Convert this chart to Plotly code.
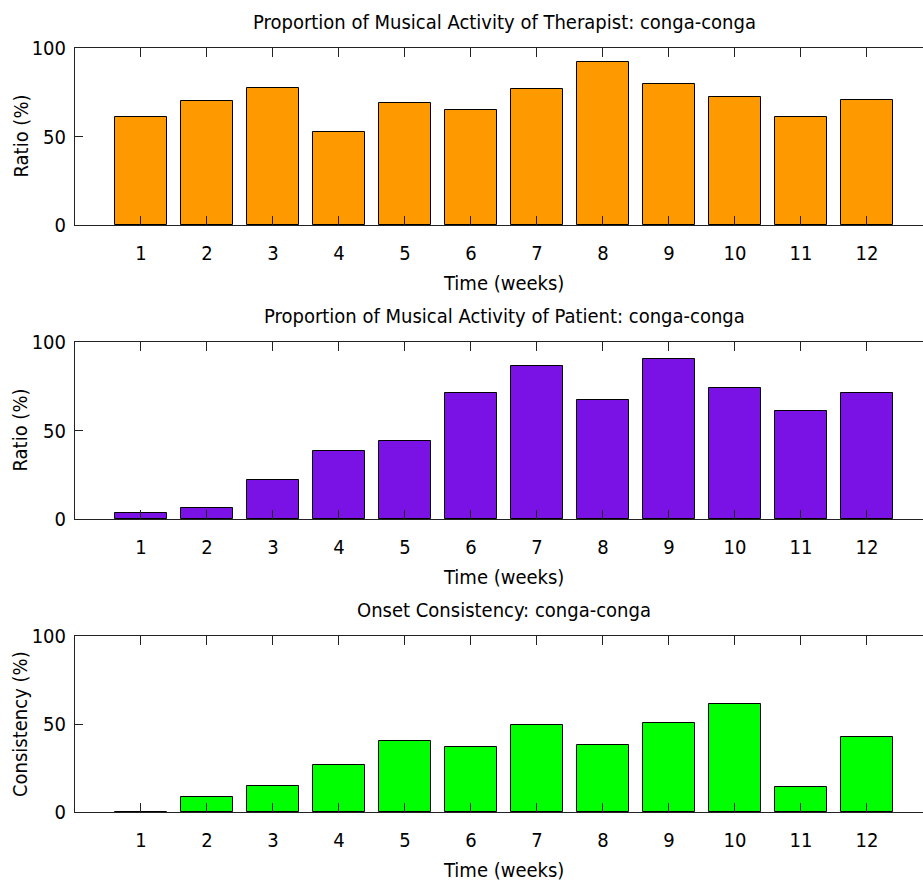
import plotly.graph_objects as go

# Weekly session data (weeks 1-12)
weeks = [1, 2, 3, 4, 5, 6, 7, 8, 9, 10, 11, 12]
week_labels = ["1", "2", "3", "4", "5", "6", "7", "8", "9", "10", "11", "12"]
therapist_activity = [61.2, 70.1, 77.4, 52.5, 68.8, 65.1, 76.7, 92.1, 79.8, 72.3, 61.2, 70.6]
patient_activity = [3.2, 6.2, 22.2, 38.2, 44.2, 71.1, 86.7, 67.1, 90.2, 74.2, 60.9, 71.1]
onset_consistency = [0.0, 8.5, 14.7, 26.7, 40.5, 37.1, 49.3, 38.2, 50.7, 61.6, 14.2, 42.7]

titles = [
    "Proportion of Musical Activity of Therapist: conga-conga",
    "Proportion of Musical Activity of Patient: conga-conga",
    "Onset Consistency: conga-conga",
]
y_titles = ["Ratio (%)", "Ratio (%)", "Consistency (%)"]
series = [therapist_activity, patient_activity, onset_consistency]
colors = ["#FF9900", "#7A12E5", "#00FF00"]

W, H = 923, 881
FONT = "Liberation Sans Narrow, Arial Narrow, DejaVu Sans Condensed, Liberation Sans, sans-serif"
# panel top/bottom in pixels
panels = [(48, 225), (342, 519), (636, 812)]
x_left = 75

fig = go.Figure()
annotations = []
for i, (vals, col) in enumerate(zip(series, colors)):
    n = "" if i == 0 else str(i + 1)
    fig.add_trace(go.Bar(
        x=weeks, y=vals, width=0.8,
        marker=dict(color=col, line=dict(color="black", width=1)),
        xaxis="x" + n, yaxis="y" + n, showlegend=False,
    ))
    top, bot = panels[i]
    dom = [1 - bot / H, 1 - top / H]
    fig.layout["xaxis" + n] = dict(
        domain=[x_left / W, 1], range=[0, 12.85], anchor="y" + n,
        tickmode="array", tickvals=weeks, ticktext=week_labels,
        ticks="inside", ticklen=9, tickcolor="#222", tickwidth=1,
        showline=True, linecolor="#222", linewidth=1, mirror="ticks",
        showgrid=False, zeroline=False, automargin=False,
        tickfont=dict(family=FONT, size=20, color="black"),
        ticklabelstandoff=10,
    )
    fig.layout["yaxis" + n] = dict(
        domain=dom, range=[0, 100], anchor="x" + n,
        tickmode="array", tickvals=[0, 50, 100],
        ticks="inside", ticklen=8, tickcolor="#222", tickwidth=1,
        showline=True, linecolor="#222", linewidth=1, mirror=False,
        showgrid=False, zeroline=False, automargin=False,
        tickfont=dict(family=FONT, size=20, color="black"),
        ticklabelstandoff=4,
    )
    xc = (x_left + 933) / 2 / W
    annotations.append(dict(
        text=titles[i], x=xc, y=1 - (top - 26) / H, xref="paper", yref="paper",
        xanchor="center", yanchor="middle", showarrow=False,
        font=dict(family=FONT, size=20, color="black"),
    ))
    annotations.append(dict(
        text="Time (weeks)", x=503.5 / W, y=1 - (bot + 58) / H, xref="paper", yref="paper",
        xanchor="center", yanchor="middle", showarrow=False,
        font=dict(family=FONT, size=20, color="black"),
    ))
    annotations.append(dict(
        text=y_titles[i], x=20 / W, y=1 - ((top + bot) / 2) / H, xref="paper", yref="paper",
        xanchor="center", yanchor="middle", showarrow=False, textangle=-90,
        font=dict(family=FONT, size=20, color="black"),
    ))

fig.update_layout(
    width=W, height=H,
    margin=dict(l=0, r=0, t=0, b=0),
    paper_bgcolor="white", plot_bgcolor="white",
    annotations=annotations, bargap=0,
)
fig.write_html("out.html")
